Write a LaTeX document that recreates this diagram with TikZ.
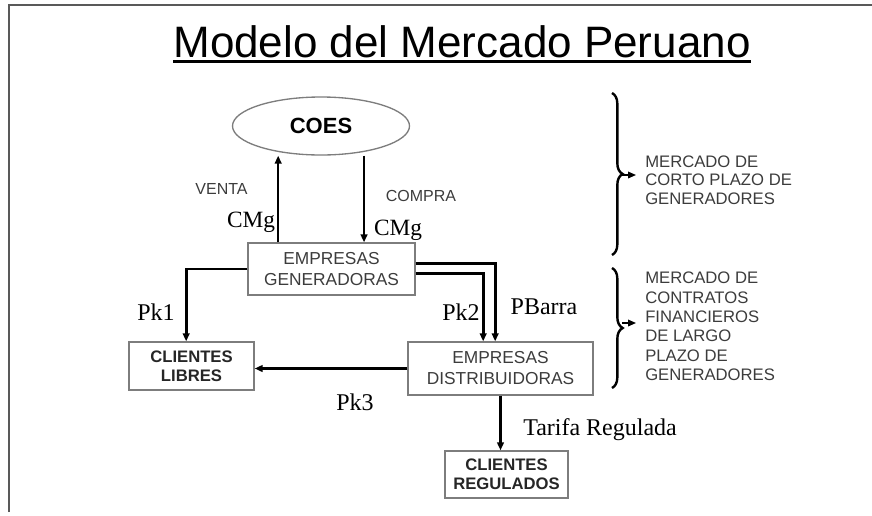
\documentclass[tikz,border=0pt]{standalone}
\usepackage{fontspec}
\setmainfont{Liberation Serif}
\setsansfont{Liberation Sans}
\usepackage{tikz}
\usetikzlibrary{arrows.meta, positioning, calc, shapes.geometric, decorations.pathreplacing}
\definecolor{boxgray}{RGB}{125, 125, 125}
\definecolor{textgray}{RGB}{60, 60, 60}

\begin{document}
\begin{tikzpicture}[x=0.75pt, y=-0.75pt, >={Triangle[length=6pt, width=5pt]},
  box/.style={draw=boxgray, line width=1pt, inner sep=0pt, align=center,
    font=\sffamily\fontsize{13}{15.75}\selectfont, text=textgray},
  client/.style={box, font=\sffamily\bfseries\fontsize{12.5}{14}\selectfont, text=black!85},
  flow/.style={->, line width=2pt},
  price/.style={font=\fontsize{18}{20}\selectfont, anchor=base, inner sep=0pt},
  tag/.style={font=\sffamily\fontsize{12}{14}\selectfont, text=textgray, anchor=base, inner sep=0pt},
  market/.style={font=\sffamily\fontsize{12.5}{13.7}\selectfont, text=textgray, align=left,
    anchor=west, inner sep=0pt},
  bracket/.style={line width=1.8pt, decorate, decoration={brace, amplitude=8pt}}]
  \useasboundingbox (0,0) rectangle (872,515);
  % Frame of the slide
  \draw[black!65, line width=1.2pt] (9,512) -- (9,5) -- (872,5);
  % Title
  \node[anchor=base, inner sep=0pt, font=\sffamily\fontsize{33}{36}\selectfont]
    (title) at (462,57) {Modelo del Mercado Peruano};
  \draw[line width=2.2pt] ([yshift=-3.5pt]title.base west) -- ([yshift=-3.5pt]title.base east);
  % Agents
  \node[ellipse, draw=boxgray, line width=1pt, minimum width=132.75pt, minimum height=43.5pt,
    inner sep=0pt, font=\sffamily\bfseries\fontsize{16.5}{18}\selectfont] (coes) at (321,126) {COES};
  \node[box, minimum width=125.25pt, minimum height=39pt] (gen) at (331.5,269)
    {EMPRESAS\\GENERADORAS};
  \node[client, minimum width=93.75pt, minimum height=36pt] (libres) at (191.5,366)
    {CLIENTES\\LIBRES};
  \node[box, minimum width=138.75pt, minimum height=39.75pt] (dist) at (500.5,368.5)
    {EMPRESAS\\DISTRIBUIDORAS};
  \node[client, minimum width=92.25pt, minimum height=35.25pt] (regul) at (506.5,474.5)
    {CLIENTES\\REGULADOS};
  % Spot market with the COES
  \draw[->, line width=1.6pt] ([xshift=-40pt]gen.north) -- ([xshift=-40pt]gen.north |- coes.south);
  \draw[->, line width=1.6pt] ([xshift=24.4pt]gen.north |- coes.south) -- ([xshift=24.4pt]gen.north);
  \node[tag] (venta) at (221.5,194) {VENTA};
  \node[tag] (compra) at (421,201) {COMPRA};
  \node[price, font=\fontsize{17.5}{20}\selectfont] (cmgv) at (251,227) {CMg};
  \node[price, font=\fontsize{17.5}{20}\selectfont] (cmgc) at (398,235) {CMg};
  % Contracts
  \draw[flow] (gen.west) -| ([xshift=-4pt]libres.north);
  \draw[flow] ([yshift=4pt]gen.east) -| ([xshift=-4pt]dist.north);
  \draw[flow] ([yshift=-3.5pt]gen.east) -| ([xshift=-13pt]dist.north);
  \draw[flow] (dist.west) -- (dist.west -| libres.east);
  \draw[flow, line width=1.6pt] (dist.south) -- (dist.south |- regul.north);
  \node[price] (pk1) at (156,320) {Pk1};
  \node[price] (pk2) at (461,320) {Pk2};
  \node[price] (pbarra) at (544,314) {PBarra};
  \node[price] (pk3) at (355,410) {Pk3};
  \node[price, anchor=base west] (tarifa) at (523,435) {Tarifa Regulada};
  % Market braces
  \draw[bracket] (612,93) -- (612,255);
  \draw[bracket] (612,268) -- (612,388);
  \coordinate (tip1) at (622,175);
  \coordinate (tip2) at (622,323);
  \draw[->, line width=1pt] (tip1) -- ++(14,0);
  \draw[->, line width=1pt] (tip2) -- ++(14,0);
  \node[market] (corto) at (645,180) {MERCADO DE\\CORTO PLAZO DE\\GENERADORES};
  \node[market, font=\sffamily\fontsize{12.5}{14.5}\selectfont] (largo) at (645,326.5)
    {MERCADO DE\\CONTRATOS\\FINANCIEROS\\DE LARGO\\PLAZO DE\\GENERADORES};
\end{tikzpicture}
\end{document}
